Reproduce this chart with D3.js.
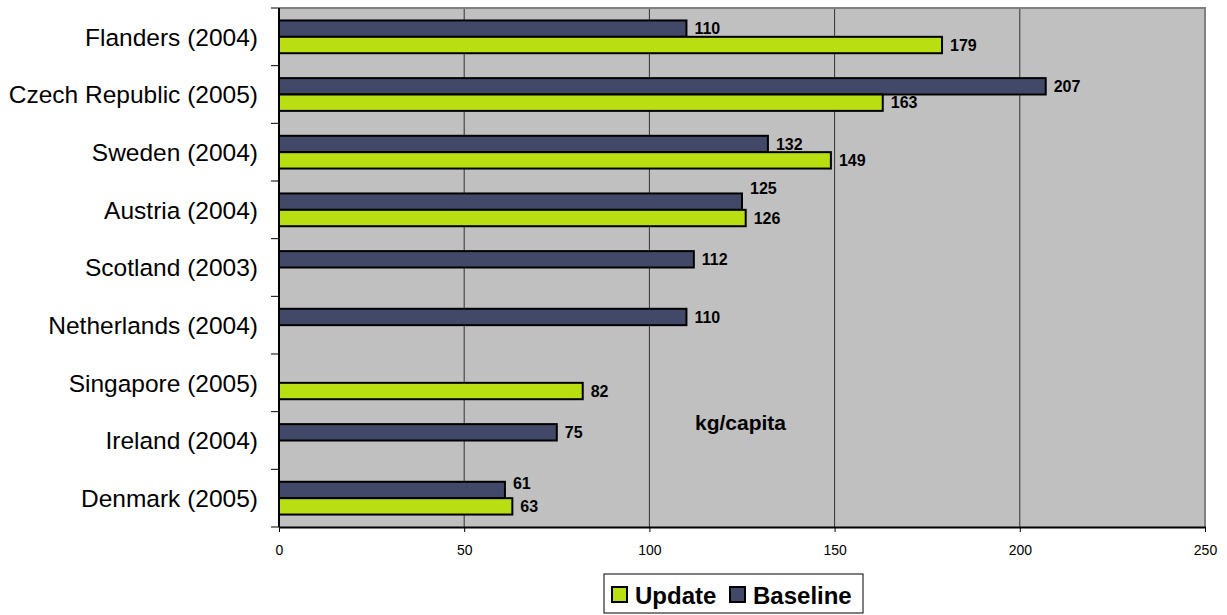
<!DOCTYPE html>
<html>
<head>
<meta charset="utf-8">
<script src="https://cdn.jsdelivr.net/npm/d3@7"></script>
<style>
  body { margin: 0; background: #fff; }
  text { font-family: Arial, "Liberation Sans", sans-serif; }
</style>
</head>
<body>
<svg id="chart" width="1227" height="615"></svg>
<script>
const categories = [
    'Flanders (2004)', 'Czech Republic (2005)', 'Sweden (2004)', 'Austria (2004)',
    'Scotland (2003)', 'Netherlands (2004)', 'Singapore (2005)', 'Ireland (2004)', 'Denmark (2005)'
];
const baselineValues = [110, 207, 132, 125, 112, 110, null, 75, 61];
const updateValues = [179, 163, 149, 126, null, null, 82, null, 63];
const xTicks = [0, 50, 100, 150, 200, 250];
const seriesNames = ['Baseline', 'Update'];
const legendOrder = ['Update', 'Baseline'];
const unitLabel = 'kg/capita';

// label nudges where Excel moved the baseline labels up to avoid overlap
const baselineLabelNudge = { 'Austria (2004)': -13, 'Denmark (2005)': -7 };

const colors = { Baseline: '#424868', Update: '#B9DE12' };

const plot = { left: 279, right: 1205, top: 8, bottom: 527 };

const svg = d3.select('#chart');

const x = d3.scaleLinear().domain([0, 250]).range([plot.left, plot.right]);
const y = d3.scaleBand().domain(categories).range([plot.top, plot.bottom]).padding(0);
const ySeries = d3.scaleBand().domain(seriesNames).range([0, y.bandwidth()])
    .paddingInner(0).paddingOuter(0.76);

// plot area
svg.append('rect')
    .attr('x', plot.left).attr('y', plot.top)
    .attr('width', plot.right - plot.left).attr('height', plot.bottom - plot.top)
    .attr('fill', '#C0C0C0');

// grid
svg.append('g').selectAll('line')
    .data(xTicks.filter(t => t > 0 && t < 250))
    .enter().append('line')
    .attr('x1', d => x(d)).attr('x2', d => x(d))
    .attr('y1', plot.top).attr('y2', plot.bottom)
    .attr('stroke', '#333').attr('stroke-width', 1);

// top + right border
svg.append('path')
    .attr('d', `M${plot.left},${plot.top}H${plot.right}V${plot.bottom}`)
    .attr('fill', 'none').attr('stroke', '#808080').attr('stroke-width', 2);

// bars
const rows = categories.map((c, i) => ({ cat: c, Baseline: baselineValues[i], Update: updateValues[i] }));
const bars = [];
rows.forEach(r => seriesNames.forEach(s => {
    if (r[s] !== null) bars.push({ cat: r.cat, serie: s, value: r[s] });
}));

svg.append('g').selectAll('rect')
    .data(bars)
    .enter().append('rect')
    .attr('x', x(0))
    .attr('y', d => y(d.cat) + ySeries(d.serie))
    .attr('width', d => x(d.value) - x(0))
    .attr('height', ySeries.bandwidth())
    .attr('fill', d => colors[d.serie])
    .attr('stroke', '#000')
    .attr('stroke-width', 2);

svg.append('g').selectAll('text')
    .data(bars)
    .enter().append('text')
    .attr('x', d => x(d.value) + 8)
    .attr('y', d => y(d.cat) + ySeries(d.serie) + ySeries.bandwidth() / 2
        + (d.serie === 'Baseline' ? (baselineLabelNudge[d.cat] || 0) : 0))
    .attr('dy', '0.36em')
    .attr('font-size', 16)
    .attr('font-weight', 'bold')
    .attr('fill', '#000')
    .text(d => d.value);

// x axis
const xAxis = d3.axisBottom(x).tickValues(xTicks).tickSize(5).tickPadding(13).tickSizeOuter(0);
const gx = svg.append('g').attr('transform', `translate(0,${plot.bottom})`).call(xAxis);
gx.select('.domain').attr('stroke', '#000').attr('stroke-width', 2);
gx.selectAll('.tick line').attr('stroke', '#000');
gx.selectAll('.tick text').attr('font-size', 14).attr('font-family', 'Arial, "Liberation Sans", sans-serif').attr('fill', '#000');

// y axis: ticks at band boundaries
const gy = svg.append('g');
gy.append('line')
    .attr('x1', plot.left).attr('x2', plot.left)
    .attr('y1', plot.top).attr('y2', plot.bottom)
    .attr('stroke', '#000').attr('stroke-width', 2);
gy.selectAll('.ytick')
    .data(categories.map(c => y(c)).concat([plot.bottom]))
    .enter().append('line')
    .attr('x1', plot.left - 8).attr('x2', plot.left)
    .attr('y1', d => d).attr('y2', d => d)
    .attr('stroke', '#000').attr('stroke-width', 1);
gy.selectAll('.ylabel')
    .data(categories)
    .enter().append('text')
    .attr('x', 258)
    .attr('y', d => y(d) + y.bandwidth() / 2)
    .attr('dy', '0.36em')
    .attr('text-anchor', 'end')
    .attr('font-size', 24.5)
    .attr('fill', '#000')
    .text(d => d);

// unit label
svg.append('text')
    .attr('x', x(124.6)).attr('y', 422)
    .attr('dy', '0.36em')
    .attr('text-anchor', 'middle')
    .attr('font-size', 21)
    .attr('font-weight', 'bold')
    .attr('fill', '#000')
    .text(unitLabel);

// legend
const legend = svg.append('g');
legend.append('rect')
    .attr('x', 604).attr('y', 574).attr('width', 259).attr('height', 39)
    .attr('fill', '#fff').attr('stroke', '#000').attr('stroke-width', 1);
const legendX = { Update: 612, Baseline: 730 };
const li = legend.selectAll('.li').data(legendOrder).enter().append('g')
    .attr('transform', d => `translate(${legendX[d]},587)`);
li.append('rect')
    .attr('width', 15).attr('height', 15)
    .attr('fill', d => colors[d]).attr('stroke', '#000').attr('stroke-width', 2);
li.append('text')
    .attr('x', 23).attr('y', 16.5)
    .attr('font-size', 24)
    .attr('font-weight', 'bold')
    .attr('fill', '#000')
    .text(d => d);
</script>
</body>
</html>
